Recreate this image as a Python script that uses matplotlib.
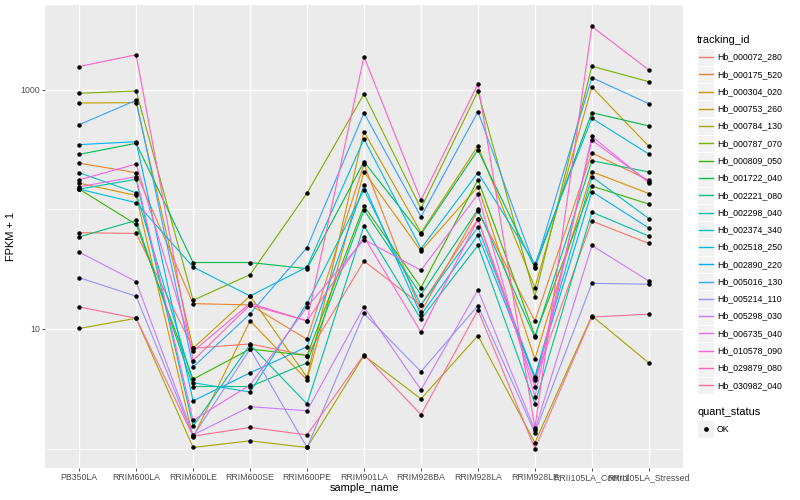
import matplotlib
matplotlib.use("Agg")
import matplotlib.pyplot as plt
from matplotlib.lines import Line2D
from matplotlib.patches import Rectangle
from matplotlib.ticker import FixedLocator, NullFormatter

plt.rcParams['font.family'] = ['Liberation Sans', 'DejaVu Sans']

samples = ["PB350LA", "RRIM600LA", "RRIM600LE", "RRIM600SE", "RRIM600PE",
           "RRIM901LA", "RRIM928BA", "RRIM928LA", "RRIM928LE",
           "RRII105LA_Control", "RRII105LA_Stressed"]

genes = ["Hb_000072_280", "Hb_000175_520", "Hb_000304_020", "Hb_000753_260",
         "Hb_000784_130", "Hb_000787_070", "Hb_000809_050", "Hb_001722_040",
         "Hb_002221_080", "Hb_002298_040", "Hb_002374_340", "Hb_002518_250",
         "Hb_002890_220", "Hb_005016_130", "Hb_005214_110", "Hb_005298_030",
         "Hb_006735_040", "Hb_010578_090", "Hb_029879_080", "Hb_030982_040"]

# ggplot hue palette, 20 levels
colors = ["#F8766D", "#EA8331", "#D89000", "#C09B00", "#A3A500", "#7CAE00",
          "#39B600", "#00BB4E", "#00BF7D", "#00C1A3", "#00BFC4", "#00BAE0",
          "#00B0F6", "#35A2FF", "#9590FF", "#C77CFF", "#E76BF3", "#FA62DB",
          "#FF62BC", "#FF6C91"]

# FPKM + 1 per gene, in the order of samples
hb_000072 = [64, 63, 6.9, 7.5, 6.0, 37, 15.9, 83, 3.75, 80, 52]
hb_000175 = [244, 203, 16.3, 15.9, 8.2, 240, 13.9, 97, 11.7, 297, 176]
hb_000304 = [166, 131, 1.24, 11.7, 3.75, 207, 45, 155, 5.6, 207, 136]
hb_000753 = [778, 783, 6.9, 18.9, 3.95, 448, 64, 340, 22.2, 1059, 338]
hb_000784 = [10.1, 12.3, 1.02, 1.16, 1.02, 6.0, 2.6, 8.8, 1.12, 12.9, 5.2]
hb_000787 = [938, 981, 17.4, 28.5, 137, 926, 102, 975, 18.7, 1580, 1173]
hb_000809 = [148, 75, 3.8, 6.8, 6.0, 107, 22.2, 177, 8.8, 157, 111]
hb_001722 = [289, 358, 36, 36, 32, 251, 62, 315, 32.5, 646, 500]
hb_002221 = [59, 81, 3.3, 3.3, 5.2, 99, 19.3, 100, 8.5, 256, 206]
hb_002298 = [148, 179, 1.54, 7.4, 2.36, 73, 12.1, 50, 2.37, 95, 60]
hb_002374 = [203, 138, 3.55, 2.97, 16.4, 146, 15.9, 71, 4.0, 188, 84]
hb_002518 = [148, 114, 33, 18.9, 33, 389, 47, 203, 35, 580, 291]
hb_002890 = [349, 369, 2.5, 4.3, 7.1, 160, 13.1, 61, 3.9, 141, 70]
hb_005016 = [512, 820, 4.8, 13.4, 48, 642, 87, 658, 33, 1268, 768]
hb_005214 = [26.9, 18.8, 1.27, 6.8, 1.02, 13.5, 4.4, 15.7, 1.36, 24.1, 23.7]
hb_005298 = [44, 24.9, 1.30, 2.24, 2.07, 15.3, 3.1, 21.2, 1.43, 50, 25.2]
hb_006735 = [155, 188, 1.72, 3.4, 15.3, 56, 31, 134, 2.71, 410, 167]
hb_010578 = [177, 240, 6.5, 16.4, 11.7, 59, 9.4, 83, 3.3, 380, 170]
hb_029879 = [1570, 1970, 5.45, 15.9, 11.7, 1900, 120, 1122, 1.49, 3400, 1470]
hb_030982 = [15.3, 12.3, 1.27, 1.50, 1.30, 6.1, 1.92, 14.4, 1.0, 12.6, 13.3]

series = [hb_000072, hb_000175, hb_000304, hb_000753, hb_000784, hb_000787,
          hb_000809, hb_001722, hb_002221, hb_002298, hb_002374, hb_002518,
          hb_002890, hb_005016, hb_005214, hb_005298, hb_006735, hb_010578,
          hb_029879, hb_030982]

W, H = 800, 500
fig = plt.figure(figsize=(8, 5), dpi=100)
ax = fig.add_axes([45 / W, 32 / H, 638 / W, 463 / H])
ax.set_facecolor("#EBEBEB")

x = list(range(len(samples)))
for vals, col in zip(series, colors):
    ax.plot(x, vals, color=col, lw=0.8, zorder=2)
for vals in series:
    ax.plot(x, vals, ls="none", marker="o", ms=2.7, mew=0.4,
            mfc="black", mec="black", zorder=3)

ax.set_yscale("log")
ax.set_ylim(0.687, 5140)
ax.set_xlim(-0.6, 10.6)
ax.set_xticks(x)
ax.set_xticklabels(samples)
ax.yaxis.set_major_locator(FixedLocator([10, 1000]))
ax.yaxis.set_major_formatter(plt.FixedFormatter(["10", "1000"]))
ax.yaxis.set_minor_locator(FixedLocator([1, 100]))
ax.yaxis.set_minor_formatter(NullFormatter())
ax.tick_params(which="major", length=2, width=0.6, color="#333333",
               labelsize=6.3, labelcolor="#4D4D4D", pad=1.5)
ax.tick_params(which="minor", length=0)
ax.grid(which="major", color="white", lw=1.0)
ax.grid(which="minor", axis="y", color="white", lw=0.5)
ax.set_axisbelow(True)
for s in ax.spines.values():
    s.set_visible(False)

ax.set_xlabel("sample_name", fontsize=7.9)
ax.set_ylabel("FPKM + 1", fontsize=7.9)
ax.xaxis.set_label_coords(0.5, -0.033)
ax.yaxis.set_label_coords(-0.045, 0.5)


def px(xp, yp):
    return (xp / W, 1 - yp / H)


# legend: tracking_id
fig.text(*px(697, 40), "tracking_id", fontsize=7.9, ha="left", va="center")
for i, (g, col) in enumerate(zip(genes, colors)):
    yc = 57 + i * 17.28
    fig.add_artist(Rectangle(px(697, yc + 8.6), 17 / W, 17.2 / H,
                             facecolor="#F2F2F2", edgecolor="white", lw=0.6,
                             transform=fig.transFigure))
    fig.add_artist(Line2D([699 / W, 713 / W], [1 - yc / H, 1 - yc / H],
                          color=col, lw=1.0, transform=fig.transFigure))
    fig.text(*px(717, yc), g, fontsize=6.3, ha="left", va="center")

# legend: quant_status
fig.text(*px(697, 412), "quant_status", fontsize=7.9, ha="left", va="center")
fig.add_artist(Rectangle(px(697, 429 + 8.6), 17 / W, 17.2 / H,
                         facecolor="#F2F2F2", edgecolor="white", lw=0.6,
                         transform=fig.transFigure))
fig.add_artist(Line2D([705.5 / W], [1 - 429 / H], ls="none", marker="o", ms=2.4,
                      mfc="black", mec="black", transform=fig.transFigure))
fig.text(*px(717, 429), "OK", fontsize=6.3, ha="left", va="center")

fig.savefig("out.png", dpi=100)
